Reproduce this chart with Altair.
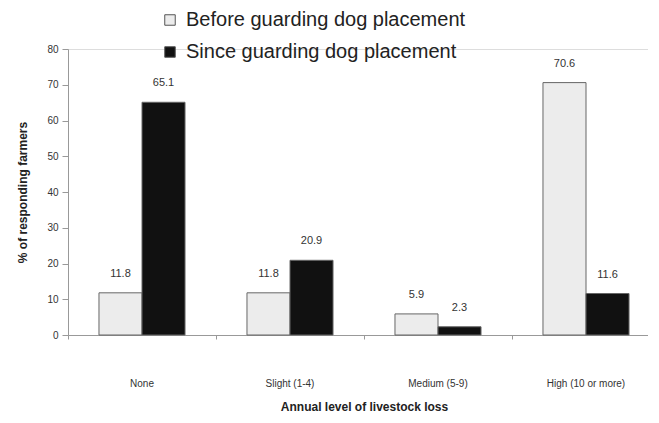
import altair as alt
import pandas as pd

categories = ["None", "Slight (1-4)", "Medium (5-9)", "High (10 or more)"]
series = ["Before guarding dog placement", "Since guarding dog placement"]
before = [11.8, 11.8, 5.9, 70.6]
since = [65.1, 20.9, 2.3, 11.6]
y_ticks = [0, 10, 20, 30, 40, 50, 60, 70, 80]

rows = []
for c, b, s in zip(categories, before, since):
    rows.append({"cat": c, "series": series[0], "value": b})
    rows.append({"cat": c, "series": series[1], "value": s})
df = pd.DataFrame(rows)
df["label"] = df["value"].map(lambda v: f"{v:.1f}")

FONT = "Liberation Sans"

x_enc = alt.X(
    "cat:N",
    sort=categories,
    scale=alt.Scale(paddingInner=0, paddingOuter=0, range=[0, 592]),
    axis=alt.Axis(
        title="Annual level of livestock loss",
        labelAngle=0,
        labelFontSize=10,
        labelColor="#333",
        labelFont=FONT,
        labelPadding=39,
        tickSize=4,
        tickColor="#999",
        domainColor="#999",
        bandPosition=0,
        titleFont=FONT,
        titleFontSize=12,
        titleFontWeight="bold",
        titleColor="#222",
        titlePadding=13,
    ),
)
xoff = alt.XOffset(
    "series:N",
    sort=series,
    scale=alt.Scale(paddingInner=0, paddingOuter=0.72),
)
y_enc = alt.Y(
    "value:Q",
    scale=alt.Scale(domain=[0, 80], nice=False),
    axis=alt.Axis(
        title="% of responding farmers",
        values=y_ticks,
        tickCount=9,
        labelOverlap=False,
        grid=False,
        labelFontSize=10,
        labelColor="#333",
        labelFont=FONT,
        labelPadding=4,
        tickSize=6,
        tickColor="#999",
        domainColor="#999",
        titleFont=FONT,
        titleFontSize=12,
        titleFontWeight="bold",
        titleColor="#222",
        titlePadding=17,
    ),
)

base = alt.Chart(df).encode(x=x_enc, xOffset=xoff, y=y_enc)

bars = base.mark_bar(stroke="#666", strokeWidth=1).encode(
    color=alt.Color(
        "series:N",
        sort=series,
        scale=alt.Scale(domain=series, range=["#ececec", "#111111"]),
        legend=alt.Legend(
            title=None,
            orient="none",
            legendX=92,
            legendY=-39,
            labelFont=FONT,
            labelFontSize=20,
            labelColor="#222",
            labelLimit=420,
            labelOffset=6,
            symbolType="square",
            symbolSize=110,
            symbolStrokeColor="#555",
            symbolStrokeWidth=1,
            rowPadding=12,
        ),
    ),
)

labels = base.mark_text(
    font=FONT, fontSize=11, color="#333", baseline="middle", dy=-19
).encode(text="label:N")

chart = (
    alt.layer(bars, labels)
    .properties(
        width=580,
        height=286,
        autosize=alt.AutoSizeParams(type="none"),
        padding={"left": 60, "top": 41, "right": 0, "bottom": 80},
    )
    .configure_view(stroke=None)
    .configure(background="white")
)

chart.save("out.html", embed_options={"renderer": "svg", "actions": False})
